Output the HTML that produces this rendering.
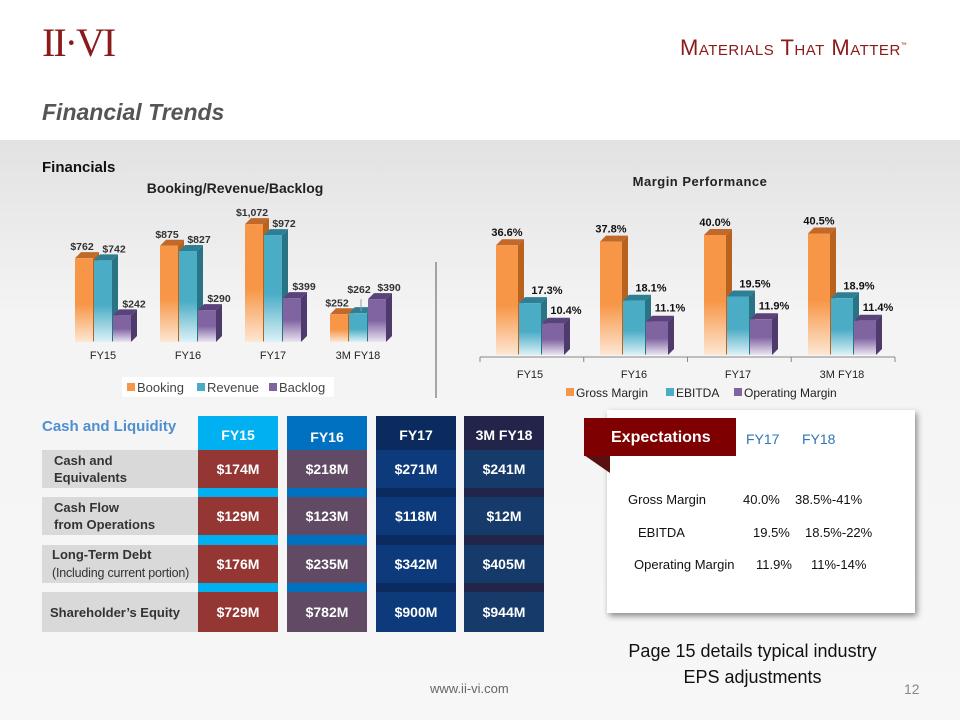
<!DOCTYPE html>
<html><head><meta charset="utf-8"><style>
body{margin:0;width:960px;height:720px;overflow:hidden;font-family:"Liberation Sans",sans-serif;background:#fff;position:relative}
.abs{position:absolute}
.cell{position:absolute;color:#fff;font-weight:bold;font-size:14px;display:flex;align-items:center;justify-content:center}
.lab{position:absolute;background:#d9d9d9;color:#333;font-weight:bold;font-size:13px;padding-left:12px;box-sizing:border-box;display:flex;flex-direction:column;justify-content:center;line-height:17px;white-space:nowrap}
.ex{position:absolute;font-size:13px;color:#111;white-space:nowrap}
</style></head><body>
<div class="abs" style="left:0;top:140px;width:960px;height:580px;background:linear-gradient(180deg,#e2e2e2 0%,#f4f4f4 30%,#f7f7f7 100%)"></div>
<div class="abs" style="left:42px;top:22px;font-family:'Liberation Serif',serif;font-size:40px;color:#8b1a1a;letter-spacing:-2px;line-height:42px">II·VI</div>
<div class="abs" style="left:680px;top:35px;font-size:22px;color:#8b1a1a;font-variant:small-caps;letter-spacing:0.5px">Materials That Matter<sup style="font-size:6px">™</sup></div>
<div class="abs" style="left:42px;top:99px;font-size:23px;font-weight:bold;font-style:italic;color:#555">Financial Trends</div>
<div class="abs" style="left:42px;top:159px;font-size:15px;font-weight:bold;color:#111">Financials</div>

<svg class="abs" style="left:0;top:0" width="960" height="720">
<defs>
<linearGradient id="go" x1="0" y1="0" x2="0" y2="1"><stop offset="0" stop-color="#f79646"/><stop offset=".55" stop-color="#f79646"/><stop offset="1" stop-color="#fde7d4"/></linearGradient>
<linearGradient id="gc" x1="0" y1="0" x2="0" y2="1"><stop offset="0" stop-color="#4bacc6"/><stop offset=".55" stop-color="#4bacc6"/><stop offset="1" stop-color="#ddf2f7"/></linearGradient>
<linearGradient id="gp" x1="0" y1="0" x2="0" y2="1"><stop offset="0" stop-color="#8064a2"/><stop offset=".5" stop-color="#8064a2"/><stop offset="1" stop-color="#ebe5f2"/></linearGradient>
</defs>
<g id="left"></g><g id="right"></g>
<line x1="436" y1="262" x2="436" y2="398" stroke="#555" stroke-width="1"/>
</svg>

<script>
const bCats=["FY15","FY16","FY17","3M FY18"];
const booking=[762,875,1072,252];
const revenue=[742,827,972,262];
const backlog=[242,290,399,390];
const bLabels=[["$762","$742","$242"],["$875","$827","$290"],["$1,072","$972","$399"],["$252","$262","$390"]];
const mCats=["FY15","FY16","FY17","3M FY18"];
const gross=[36.6,37.8,40.0,40.5];
const ebitda=[17.3,18.1,19.5,18.9];
const opm=[10.4,11.1,11.9,11.4];

const NS="http://www.w3.org/2000/svg";
function mk(tag,attrs,parent){const e=document.createElementNS(NS,tag);for(const k in attrs)e.setAttribute(k,attrs[k]);parent.appendChild(e);return e;}
const fills=["url(#go)","url(#gc)","url(#gp)"];
const tops=["#c0692b","#2e7f94","#5a427a"];
const sides=["#b7621f","#2a7385","#4e3a6b"];
function bar3d(g,x,y,w,h,d,i,name){
  const grp=mk("g",{},g);
  
  
  mk("polygon",{points:`${x+w},${y} ${x+w+d},${y-d} ${x+w+d},${y+h-d} ${x+w},${y+h}`,fill:sides[i]},grp);
  mk("polygon",{points:`${x},${y} ${x+d},${y-d} ${x+w+d},${y-d} ${x+w},${y}`,fill:tops[i]},grp);
  mk("rect",{x:x,y:y,width:w,height:h,fill:fills[i]},grp);
}
function txt(g,x,y,s,opts,name){const t=mk("text",Object.assign({x:x,y:y,"font-family":"Liberation Sans, sans-serif"},opts),g);t.textContent=s;return t;}

// left chart
const L=document.getElementById("left");
const lBase=342, lScale=0.11;
const lx=i=>103+i*85;
const ly=v=>lBase-v*lScale;
txt(L,235,193,"Booking/Revenue/Backlog",{"font-size":14,"font-weight":"bold","text-anchor":"middle",fill:"#222"},"left-chart-title");
const bSeries=[booking,revenue,backlog];
const lOff=[-2,11,12];
bCats.forEach((c,i)=>{
  bSeries.forEach((s,j)=>{
    const x=lx(i)-28+j*19, y=ly(s[i]);
    bar3d(L,x,y,18,lBase-y,6,j,"bar-"+["booking","revenue","backlog"][j]+"-"+i);
    const tall=(i==3&&j==1);
    if(tall) mk("line",{x1:x+12,y1:y-2,x2:x+12,y2:y-14,stroke:"#999"},L);
    txt(L,x+9+lOff[j]-(tall?10:0),y-(tall?20:8),bLabels[i][j],{"font-size":10.5,"font-weight":"bold","text-anchor":"middle",fill:"#333"},"value-label");
  });
  txt(L,lx(i),359,c,{"font-size":11,"text-anchor":"middle",fill:"#222"},"x-tick-label");
});
mk("rect",{x:122,y:377,width:212,height:20,fill:"#fff"},L);
[["Booking",127],["Revenue",197],["Backlog",269]].forEach((e,j)=>{
  const r=mk("rect",{x:e[1],y:383,width:8,height:8,fill:["#f79646","#4bacc6","#8064a2"][j]},L);
  
  txt(L,e[1]+10,392,e[0],{"font-size":13,fill:"#444"},"legend-entry");
});

// right chart
const R=document.getElementById("right");
const rBase=355, rScale=3.0;
const rx=i=>530+i*104;
const ry=v=>rBase-v*rScale;
txt(R,700,186,"Margin Performance",{"font-size":13,"font-weight":"bold","text-anchor":"middle",fill:"#222","letter-spacing":"0.5"},"right-chart-title");
const mSeries=[gross,ebitda,opm];
const rOff=[0,17,13];
mCats.forEach((c,i)=>{
  mSeries.forEach((s,j)=>{
    const x=rx(i)-34+j*23, y=ry(s[i]);
    bar3d(R,x,y,22,rBase-y,6,j,"bar-"+["gross","ebitda","opmargin"][j]+"-"+i);
    txt(R,x+11+rOff[j],y-(j==2?10:9),s[i].toFixed(1)+"%",{"font-size":11,"font-weight":"bold","text-anchor":"middle",fill:"#111"},"value-label");
  });
  txt(R,rx(i),378,c,{"font-size":11,"text-anchor":"middle",fill:"#222"},"x-tick-label");
});
mk("line",{x1:480,y1:357,x2:895,y2:357,stroke:"#888"},R);
for(let k=0;k<=4;k++)mk("line",{x1:480+k*103.75,y1:357,x2:480+k*103.75,y2:362,stroke:"#888"},R);
[["Gross Margin",566],["EBITDA",666],["Operating Margin",734]].forEach((e,j)=>{
  const r=mk("rect",{x:e[1],y:388,width:8,height:8,fill:["#f79646","#4bacc6","#8064a2"][j]},R);
  
  txt(R,e[1]+10,397,e[0],{"font-size":12,fill:"#222"},"legend-entry");
});
</script>

<!-- table -->
<div class="abs" style="left:42px;top:418px;font-size:15px;font-weight:bold;color:#4f8fd0">Cash and Liquidity</div>
<div class="abs" style="left:198px;top:416px;width:80px;height:216px;background:#00b0f0"></div>
<div class="abs" style="left:287px;top:416px;width:80px;height:216px;background:#0070c0"></div>
<div class="abs" style="left:376px;top:416px;width:80px;height:216px;background:#0b2a5e"></div>
<div class="abs" style="left:464px;top:416px;width:80px;height:216px;background:#23244a"></div>
<div class="cell" style="left:198px;top:420px;width:80px;height:30px">FY15</div>
<div class="cell" style="left:287px;top:422px;width:80px;height:30px">FY16</div>
<div class="cell" style="left:376px;top:420px;width:80px;height:30px">FY17</div>
<div class="cell" style="left:464px;top:420px;width:80px;height:30px">3M FY18</div>

<div class="lab" style="left:42px;top:450px;width:156px;height:38px">Cash and<br>Equivalents</div>
<div class="lab" style="left:42px;top:497px;width:156px;height:38px">Cash Flow<br>from Operations</div>
<div class="lab" style="left:42px;top:545px;width:156px;height:38px;padding-left:10px;line-height:19px">Long-Term Debt<br><span style="font-weight:normal;font-size:12.5px;letter-spacing:-0.2px">(Including current portion)</span></div>
<div class="lab" style="left:42px;top:592px;width:156px;height:40px;padding-left:8px">Shareholder’s Equity</div>

<div id="cells"></div>
<script>
const rowsY=[450,497,545,592];
const colX=[198,287,376,464];
const colBg=["#943634","#604a64","#0d3a7a","#163a6a"];
const vals=[["$174M","$218M","$271M","$241M"],["$129M","$123M","$118M","$12M"],["$176M","$235M","$342M","$405M"],["$729M","$782M","$900M","$944M"]];
const host=document.getElementById("cells");
rowsY.forEach((y,r)=>colX.forEach((x,c)=>{
  const d=document.createElement("div");
  d.className="cell";
  d.style.cssText=`left:${x}px;top:${y}px;width:80px;height:${r==3?40:38}px;background:${colBg[c]}`;
  d.textContent=vals[r][c];
  
  
  host.appendChild(d);
}));
</script>

<!-- expectations -->
<div class="abs" style="left:607px;top:410px;width:308px;height:203px;background:#fff;box-shadow:2px 3px 6px rgba(0,0,0,.45)"></div>
<div class="abs" style="left:584px;top:455px;width:0;height:0;border-top:18px solid #5a1010;border-left:26px solid transparent"></div>
<div class="abs" style="left:584px;top:418px;width:152px;height:38px;background:#7f0000;color:#fff;font-weight:bold;font-size:16px;line-height:40px;padding-left:27px;box-sizing:border-box">Expectations</div>
<div class="abs" style="left:746px;top:431px;font-size:14px;color:#2e75b6">FY17</div>
<div class="abs" style="left:802px;top:431px;font-size:14px;color:#2e75b6">FY18</div>
<div class="ex" style="left:628px;top:492px">Gross Margin</div>
<div class="ex" style="left:743px;top:492px">40.0%</div>
<div class="ex" style="left:795px;top:492px">38.5%-41%</div>
<div class="ex" style="left:638px;top:525px">EBITDA</div>
<div class="ex" style="left:753px;top:525px">19.5%</div>
<div class="ex" style="left:805px;top:525px">18.5%-22%</div>
<div class="ex" style="left:634px;top:557px">Operating Margin</div>
<div class="ex" style="left:756px;top:557px">11.9%</div>
<div class="ex" style="left:811px;top:557px">11%-14%</div>

<div class="abs" style="left:590px;top:638px;width:325px;text-align:center;font-size:18px;line-height:26px;color:#111;white-space:nowrap">Page 15 details typical industry<br>EPS adjustments</div>
<div class="abs" style="left:430px;top:681px;font-size:13px;color:#666">www.ii-vi.com</div>
<div class="abs" style="left:904px;top:681px;font-size:14px;color:#888">12</div>
</body></html>
